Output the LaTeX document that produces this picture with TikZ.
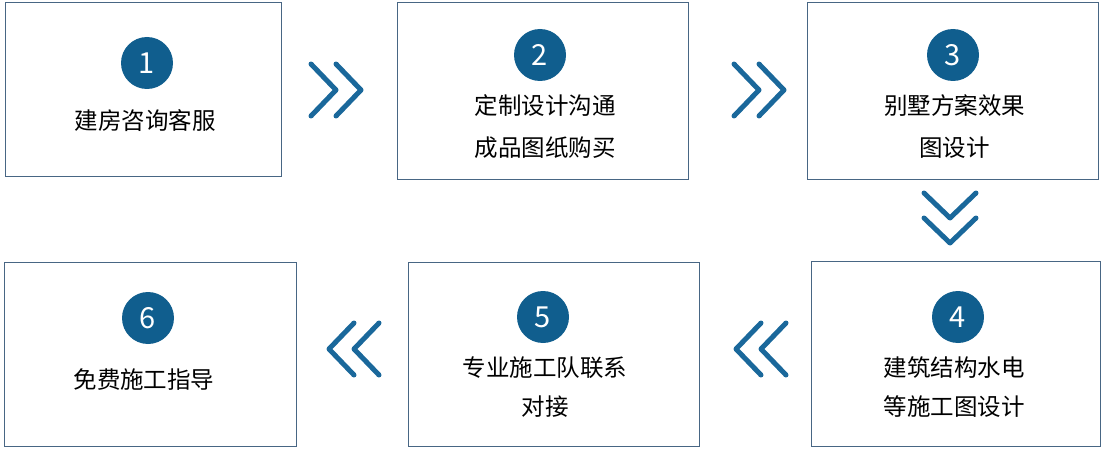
\documentclass[tikz,border=0pt]{standalone}
\usepackage{fontspec}
\newfontfamily\cjk{Noto Sans CJK SC}
\usetikzlibrary{positioning,calc}
\definecolor{stepblue}{RGB}{16,94,142}
\definecolor{chevblue}{RGB}{26,104,155}
\definecolor{framegray}{RGB}{72,102,132}
\tikzset{
  stepbox/.style={draw=framegray, line width=1pt, inner sep=0pt},
  numdot/.style={circle, fill=stepblue, text=white, minimum size=52pt, inner sep=0pt,
    font=\cjk\fontsize{29}{29}\selectfont},
  steptext/.style={align=center, inner sep=0pt, font=\cjk\fontsize{23.5}{#1}\selectfont},
  steptext/.default=42,
  chev/.pic={
    \draw[chevblue, line width=5pt, line cap=round, line join=round]
      (-25,26) -- (0,0) -- (-25,-26) (0,26) -- (25,0) -- (0,-26);
  }
}

\begin{document}
\begin{tikzpicture}[x=1pt, y=-1pt]
  \useasboundingbox (0,0) rectangle (1104,452);
  % boxes
  \node[stepbox, minimum width=276pt, minimum height=173pt] (b1) at (143,89.5) {};
  \node[stepbox, minimum width=291pt, minimum height=176pt] (b2) at (542.5,91) {};
  \node[stepbox, minimum width=291pt, minimum height=176pt] (b3) at (952.5,91) {};
  \node[stepbox, minimum width=289pt, minimum height=185pt] (b4) at (955.5,353.5) {};
  \node[stepbox, minimum width=291pt, minimum height=184pt] (b5) at (553.5,354) {};
  \node[stepbox, minimum width=292pt, minimum height=184pt] (b6) at (150,354) {};
  % numbers
  \node[numdot] (n1) at (147,63) {1};
  \node[numdot] (n2) at (540,55) {2};
  \node[numdot] (n3) at (953,55) {3};
  \node[numdot] (n4) at (958,317) {4};
  \node[numdot] (n5) at (543,317) {5};
  \node[numdot] (n6) at (148,318) {6};
  % labels
  \node[steptext] (t1) at (145,121) {建房咨询客服};
  \node[steptext] (t2) at (545,127) {定制设计沟通\\成品图纸购买};
  \node[steptext] (t3) at (954.5,127) {别墅方案效果\\图设计};
  \node[steptext=39] (t4) at (954,387.5) {建筑结构水电\\等施工图设计};
  \node[steptext=39] (t5) at (545,387.5) {专业施工队联系\\对接};
  \node[steptext] (t6) at (144,380) {免费施工指导};
  % chevrons
  \coordinate (c12) at (336,90);
  \coordinate (c23) at (759,90);
  \coordinate (c34) at (950,218);
  \coordinate (c54) at (761,349);
  \coordinate (c65) at (354,349);
  \pic at (c12) {chev};
  \pic at (c23) {chev};
  \pic[rotate=-90] at (c34) {chev};
  \pic[rotate=180] at (c54) {chev};
  \pic[rotate=180] at (c65) {chev};
\end{tikzpicture}
\end{document}
